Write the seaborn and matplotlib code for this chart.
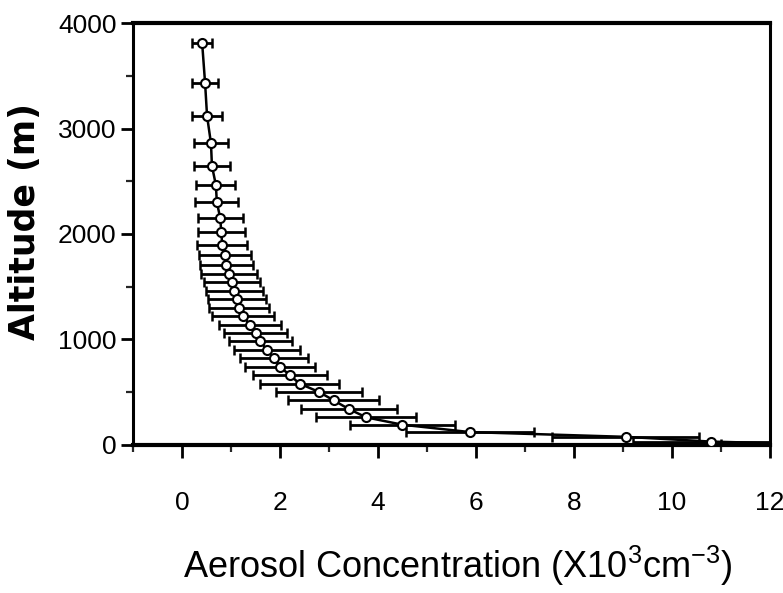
import matplotlib
matplotlib.use("Agg")
import matplotlib.pyplot as plt
from matplotlib import font_manager
from matplotlib.ticker import MultipleLocator
import pandas as pd
import seaborn as sns

# Mean aerosol concentration profile (x10^3 cm^-3) with standard deviation
altitude = [3810, 3430, 3120, 2860, 2645, 2465, 2300, 2150, 2020, 1895, 1800, 1705,
            1620, 1540, 1460, 1380, 1300, 1220, 1140, 1060, 980, 900, 820, 740,
            660, 580, 500, 420, 340, 260, 190, 120, 75, 30, 8]
concentration = [0.41, 0.47, 0.51, 0.59, 0.61, 0.69, 0.71, 0.78, 0.80, 0.82, 0.88, 0.90,
                 0.96, 1.02, 1.07, 1.12, 1.16, 1.25, 1.38, 1.50, 1.60, 1.73, 1.88, 2.00,
                 2.20, 2.40, 2.80, 3.10, 3.40, 3.76, 4.50, 5.88, 9.06, 10.80, 12.60]
std_dev = [0.21, 0.27, 0.31, 0.35, 0.36, 0.40, 0.44, 0.46, 0.48, 0.51, 0.53, 0.54,
           0.57, 0.58, 0.59, 0.60, 0.62, 0.63, 0.63, 0.64, 0.65, 0.67, 0.69, 0.71,
           0.75, 0.80, 0.88, 0.93, 0.98, 1.02, 1.08, 1.30, 1.50, 1.60, 1.60]

x_ticks = [0, 2, 4, 6, 8, 10, 12]
y_ticks = [0, 1000, 2000, 3000, 4000]

df = pd.DataFrame({"alt": altitude, "conc": concentration, "sd": std_dev})

sns.set_theme(style="ticks")
installed = {f.name for f in font_manager.fontManager.ttflist}
narrow = "Liberation Sans Narrow" if "Liberation Sans Narrow" in installed else "Liberation Sans"
plt.rcParams["font.family"] = [narrow, "DejaVu Sans"]
plt.rcParams["mathtext.fontset"] = "custom"
plt.rcParams["mathtext.rm"] = narrow

fig = plt.figure(figsize=(7.83, 5.93), dpi=100)
ax = fig.add_axes([0.170, 0.250, 0.813, 0.711])

ax.errorbar(df["conc"], df["alt"], xerr=df["sd"], fmt="none", ecolor="black",
            elinewidth=2.0, capsize=3.5, capthick=1.8, zorder=2)
sns.lineplot(data=df, x="conc", y="alt", sort=False, orient="y", ax=ax,
             color="black", linewidth=1.8, marker="o", markersize=6.5,
             markerfacecolor="white", markeredgecolor="black", markeredgewidth=1.5,
             zorder=3)

ax.set_xlim(-1, 12)
ax.set_ylim(0, 4000)
ax.set_xticks(x_ticks)
ax.set_yticks(y_ticks)
ax.xaxis.set_minor_locator(MultipleLocator(1))
ax.yaxis.set_minor_locator(MultipleLocator(500))
ax.tick_params(axis="both", which="major", direction="out", length=9, width=2,
               labelsize=19, colors="black")
ax.tick_params(axis="x", which="major", pad=24)
ax.tick_params(axis="y", which="major", pad=3)
ax.tick_params(axis="both", which="minor", direction="out", length=5, width=1.6)

for side in ["left", "right", "top", "bottom"]:
    ax.spines[side].set_visible(True)
    ax.spines[side].set_linewidth(2.2)
    ax.spines[side].set_color("black")
ax.spines["top"].set_linewidth(3)
ax.spines["bottom"].set_linewidth(3)

ax.set_xlabel(r"Aerosol Concentration (X10$^{\mathregular{3}}$cm$^{\mathregular{-3}}$)",
              fontsize=26, color="black")
ax.xaxis.set_label_coords(0.51, -0.235)
ax.set_ylabel("Altitude (m)", fontsize=25, fontweight="bold",
              family=["DejaVu Sans"], color="black")
ax.yaxis.set_label_coords(-0.143, 0.53)

fig.savefig("out.png", dpi=100, facecolor="white")
